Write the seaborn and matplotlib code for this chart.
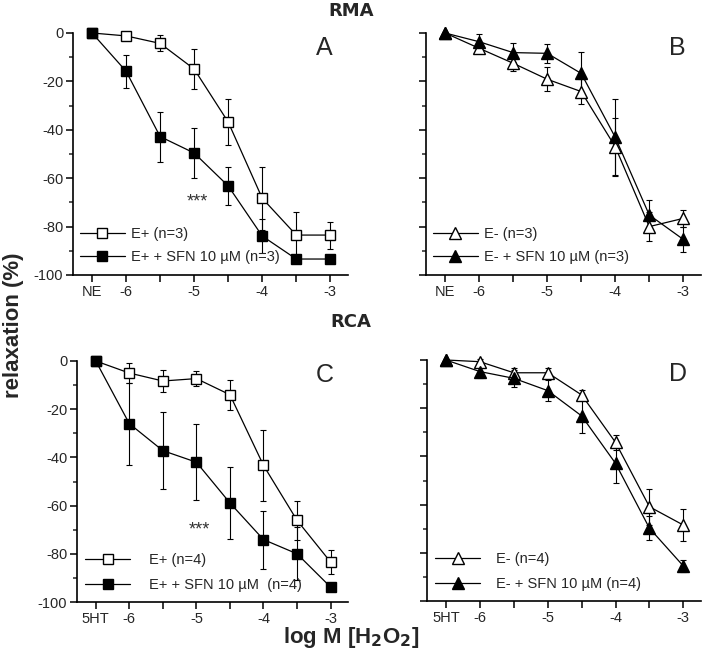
import seaborn as sns
import matplotlib.pyplot as plt
from matplotlib.ticker import MultipleLocator

# log M [H2O2]; first point = precontraction (NE / 5HT)
dose = [-6.5, -6, -5.5, -5, -4.5, -4, -3.5, -3]
labels_rma = ["NE", "-6", "", "-5", "", "-4", "", "-3"]
labels_rca = ["5HT", "-6", "", "-5", "", "-4", "", "-3"]

# A: RMA endothelium intact
a_ctrl = [0, -1.2, -4.3, -14.9, -36.8, -68.3, -83.5, -83.5]
a_ctrl_err = [0, 1.5, 3.3, 8.2, 9.4, 13.0, 9.4, 5.6]
a_sfn = [0, -15.8, -42.8, -49.6, -63.2, -83.9, -93.4, -93.4]
a_sfn_err = [0, 6.8, 10.3, 10.3, 7.8, 7.0, 1.0, 1.0]

# B: RMA endothelium denuded
b_ctrl = [0, -6.3, -12.5, -19.1, -24.2, -47.0, -80.0, -76.6]
b_ctrl_err = [0, 2.0, 3.0, 5.0, 5.0, 11.7, 6.0, 3.5]
b_sfn = [0, -3.6, -8.1, -8.4, -16.7, -43.1, -75.2, -85.3]
b_sfn_err = [0, 3.0, 4.0, 4.0, 9.0, 16.0, 6.0, 5.0]

# C: RCA endothelium intact
c_ctrl = [0, -5.0, -8.3, -7.3, -14.0, -43.3, -66.1, -83.4]
c_ctrl_err = [0, 4.0, 4.5, 3.0, 6.2, 14.8, 8.0, 5.0]
c_sfn = [0, -26.0, -37.2, -42.0, -58.9, -74.1, -80.0, -93.8]
c_sfn_err = [0, 17.0, 15.9, 15.7, 15.0, 12.0, 11.0, 1.5]

# D: RCA endothelium denuded
d_ctrl = [0, -0.7, -5.3, -5.3, -14.5, -34.2, -60.9, -68.5]
d_ctrl_err = [0, 1.0, 2.0, 2.0, 2.0, 3.0, 7.5, 6.5]
d_sfn = [0, -4.8, -7.6, -12.7, -23.2, -42.9, -69.8, -85.5]
d_sfn_err = [0, 2.5, 3.5, 4.5, 7.0, 8.0, 5.0, 2.5]

sns.set_style("ticks")
plt.rcParams['font.family'] = ['Liberation Sans', 'DejaVu Sans']
plt.rcParams['axes.unicode_minus'] = False

fig = plt.figure(figsize=(7.03, 6.55), dpi=100)
W, H = 703, 655


def panel(rect, ctrl, ctrl_err, sfn, sfn_err, marker, names, xlabels, letter, star,
          leg_anchor, textpad, spacing):
    l, b, r, t = rect
    ax = fig.add_axes([l / W, 1 - b / H, (r - l) / W, (b - t) / H])
    for y, e, face, name in [(ctrl, ctrl_err, "white", names[0]), (sfn, sfn_err, "black", names[1])]:
        ax.errorbar(dose, y, yerr=e, fmt="none", ecolor="black", elinewidth=0.8,
                    capsize=2.5, capthick=0.8, zorder=2, clip_on=False)
        sns.lineplot(x=dose, y=y, ax=ax, color="black", linewidth=0.9, marker=marker,
                     markersize=7.5 if marker == "s" else 9, markerfacecolor=face,
                     markeredgecolor="black", markeredgewidth=1.0, label=name,
                     errorbar=None, zorder=3, clip_on=False)
    ax.set_xlim(-6.78, -2.74)
    ax.set_ylim(-100, 0)
    ax.set_xticks(dose)
    ax.set_xticklabels(xlabels, fontsize=10.5)
    ax.yaxis.set_major_locator(MultipleLocator(20))
    ax.yaxis.set_minor_locator(MultipleLocator(10))
    ax.tick_params(axis="both", which="major", length=5, width=1.1, color="black", pad=2)
    ax.tick_params(axis="y", which="minor", length=3, width=1.1)
    if letter in "AC":
        ax.tick_params(axis="y", labelsize=10.5)
    else:
        ax.tick_params(axis="y", labelleft=False)
    for s in ["top", "right"]:
        ax.spines[s].set_visible(False)
    for s in ["left", "bottom"]:
        ax.spines[s].set_linewidth(1.2)
        ax.spines[s].set_color("black")
    ax.text(0.915, 0.94, letter, transform=ax.transAxes, fontsize=18, ha="center", va="center")
    if star:
        ax.text(-4.95, -70, "***", fontsize=13, color="#333333", ha="center", va="center")
    ax.legend(loc="lower left", bbox_to_anchor=leg_anchor, frameon=False, fontsize=10.5,
              handlelength=3.1, handletextpad=textpad, labelspacing=spacing, borderpad=0,
              borderaxespad=0)
    return ax


panel((73, 275, 348, 33), a_ctrl, a_ctrl_err, a_sfn, a_sfn_err, "s",
      ["E+ (n=3)", "E+ + SFN 10 µM (n=3)"], labels_rma, "A", True, (0.025, 0.045), 0.4, 0.6)
panel((426, 275, 701, 33), b_ctrl, b_ctrl_err, b_sfn, b_sfn_err, "^",
      ["E- (n=3)", "E- + SFN 10 µM (n=3)"], labels_rma, "B", False, (0.025, 0.045), 0.4, 0.6)
panel((77, 602, 348, 361), c_ctrl, c_ctrl_err, c_sfn, c_sfn_err, "s",
      ["E+ (n=4)", "E+ + SFN 10 µM  (n=4)"], labels_rca, "C", True, (0.03, 0.04), 1.3, 0.75)
panel((427, 601, 701, 360), d_ctrl, d_ctrl_err, d_sfn, d_sfn_err, "^",
      ["E- (n=4)", "E- + SFN 10 µM (n=4)"], labels_rca, "D", False, (0.03, 0.04), 1.1, 0.75)

fig.text(351 / W, 1 - 11 / H, "RMA", fontsize=13, fontweight="bold", ha="center", va="center",
         family="DejaVu Sans")
fig.text(351 / W, 1 - 322 / H, "RCA", fontsize=13, fontweight="bold", ha="center", va="center",
         family="DejaVu Sans")
fig.text(14 / W, 1 - 325 / H, "relaxation (%)", fontsize=16, fontweight="bold", rotation=90,
         ha="center", va="center")
fig.text(351 / W, 1 - 638 / H, r"log M [H$_\mathbf{2}$O$_\mathbf{2}$]", fontsize=16,
         fontweight="bold", ha="center", va="center")

fig.savefig("out.png", dpi=100)
